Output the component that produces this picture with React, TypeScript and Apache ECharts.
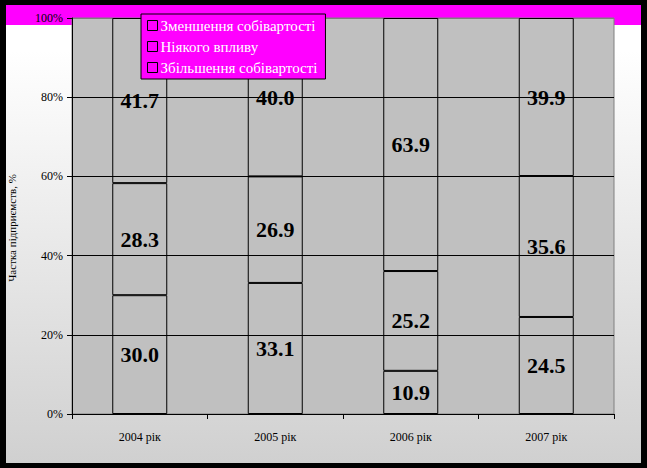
import React, { useEffect, useRef } from "react";
import * as echarts from "echarts";

const categories = ["2004 рік", "2005 рік", "2006 рік", "2007 рік"];
const increaseCost = [30.0, 33.1, 10.9, 24.5];
const noEffect = [28.3, 26.9, 25.2, 35.6];
const decreaseCost = [41.7, 40.0, 63.9, 39.9];
const seriesNames = ["Зменшення собівартості", "Ніякого впливу", "Збільшення собівартості"];
const yAxisTitle = "Частка підприємств, %";

const FONT = "Liberation Serif";

export default function App() {
  const ref = useRef<HTMLDivElement>(null);
  useEffect(() => {
    const chart = echarts.init(ref.current!, null, { renderer: "svg" });
    const barStyle = {
      color: "rgba(0,0,0,0)",
      borderColor: "#000",
      borderWidth: 1,
    };
    const label = {
      show: true,
      position: "inside",
      formatter: (p: any) => Number(p.value).toFixed(1),
      fontFamily: FONT,
      fontWeight: "bold",
      fontSize: 22,
      color: "#000",
      textBorderWidth: 0,
    };
    const mk = (name: string, data: number[]) => ({
      name,
      type: "bar",
      stack: "total",
      barWidth: 55,
      data,
      itemStyle: barStyle,
      label,
      emphasis: { disabled: true },
    });
    chart.setOption({
      animation: false,
      backgroundColor: "#000",
      graphic: [
        {
          type: "rect",
          z: -10,
          shape: { x: 6, y: 5, width: 635, height: 458 },
          style: {
            fill: new echarts.graphic.LinearGradient(0, 0, 0, 1, [
              { offset: 0, color: "#ffffff" },
              { offset: 0.1, color: "#ffffff" },
              { offset: 1, color: "#d0d0d0" },
            ]),
          },
        },
        {
          type: "rect",
          z: -9,
          shape: { x: 6, y: 5, width: 635, height: 20 },
          style: { fill: "#ff00ff" },
        },
        {
          type: "text",
          z: -8,
          x: 12,
          y: 228,
          rotation: Math.PI / 2,
          style: {
            text: yAxisTitle,
            fontFamily: FONT,
            fontSize: 11,
            fill: "#000",
            align: "center",
            verticalAlign: "middle",
          },
        },
      ],
      grid: {
        left: 72,
        top: 18,
        right: 33,
        bottom: 54,
        show: true,
        backgroundColor: "#c0c0c0",
        borderColor: "#808080",
        borderWidth: 1,
      },
      legend: {
        orient: "vertical",
        left: 141,
        top: 14,
        data: seriesNames,
        backgroundColor: "#ff00ff",
        borderColor: "#000",
        borderWidth: 1,
        padding: [4, 8, 4, 6],
        itemGap: 6,
        itemWidth: 10,
        itemHeight: 10,
        icon: "rect",
        itemStyle: { color: "rgba(0,0,0,0)", borderColor: "#000", borderWidth: 1 },
        selectedMode: false,
        textStyle: {
          fontFamily: FONT,
          fontSize: 15,
          lineHeight: 14,
          color: "#fff",
          textShadowColor: "#000",
          textShadowOffsetX: 1,
          textShadowOffsetY: 1,
          textShadowBlur: 0,
          padding: [0, 0, 0, -2],
        },
      },
      xAxis: {
        type: "category",
        data: categories,
        axisLine: { lineStyle: { color: "#000", width: 1 } },
        axisTick: { show: true, length: 5, alignWithLabel: false, lineStyle: { color: "#000" } },
        axisLabel: { fontFamily: FONT, fontSize: 12, color: "#000", margin: 17 },
        splitLine: { show: false },
      },
      yAxis: {
        type: "value",
        min: 0,
        max: 100,
        interval: 20,
        axisLine: { show: true, lineStyle: { color: "#000", width: 1 } },
        axisTick: { show: true, length: 5, lineStyle: { color: "#000" } },
        axisLabel: { fontFamily: FONT, fontSize: 12, color: "#000", margin: 9, formatter: "{value}%" },
        splitLine: {
          show: true,
          lineStyle: { color: ["#000", "#000", "#000", "#000", "#000", "#808080"], width: 1 },
        },
      },
      series: [
        mk(seriesNames[2], increaseCost),
        mk(seriesNames[1], noEffect),
        mk(seriesNames[0], decreaseCost),
      ],
    });
    return () => chart.dispose();
  }, []);
  return (
    <div
      ref={ref}
      style={{ position: "fixed", left: 0, top: 0, width: 647, height: 468 }}
    />
  );
}
